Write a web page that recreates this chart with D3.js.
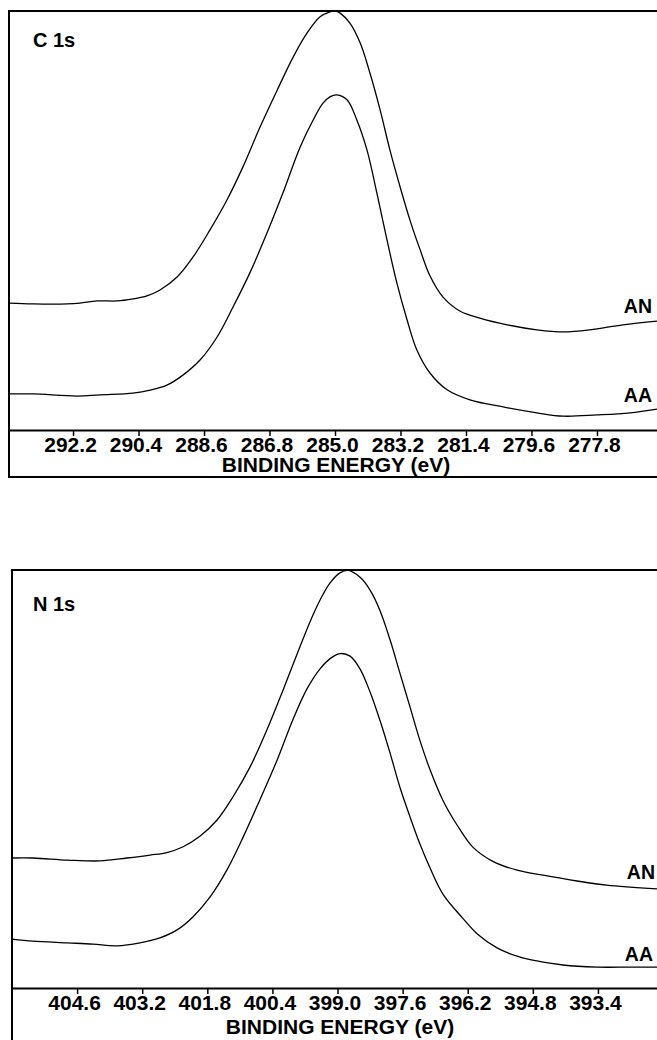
<!DOCTYPE html>
<html lang="en">
<head>
    <meta charset="UTF-8">
    <title>XPS C 1s / N 1s</title>
    <script src="https://d3js.org/d3.v7.min.js"></script>
    <style>
        html, body {
            margin: 0;
            padding: 0;
            background: #fff;
        }
        svg text {
            font-family: "Liberation Sans", Arial, sans-serif;
            font-weight: bold;
            fill: #000;
        }
    </style>
</head>
<body>
    <svg id="chart"></svg>

    <script>
        // Ejes (binding energy, eV)
        const c1sTicks = [292.2, 290.4, 288.6, 286.8, 285.0, 283.2, 281.4, 279.6, 277.8];
        const n1sTicks = [404.6, 403.2, 401.8, 400.4, 399.0, 397.6, 396.2, 394.8, 393.4];
        const c1sRange = [293.96, 276.15];
        const n1sRange = [406.0, 392.13];

        // C 1s, [energía, intensidad (u.a., 0-100)]
        const c1sAN = [
            [293.96, 30.3], [293.30, 30.1], [292.36, 30.1], [292.01, 30.3], [291.54, 30.8],
            [290.99, 30.8], [290.55, 31.3], [290.17, 32.0], [289.81, 33.4], [289.34, 36.5],
            [288.90, 41.3], [288.44, 47.7], [287.97, 54.9], [287.53, 62.8], [287.06, 72.3],
            [286.59, 81.1], [286.15, 89.0], [285.77, 94.7], [285.41, 98.6], [285.14, 99.8],
            [285.00, 100], [284.86, 99.5], [284.59, 97.1], [284.31, 92.4], [284.04, 85.2],
            [283.76, 76.4], [283.49, 66.8], [283.21, 58.0], [282.94, 50.1], [282.66, 43.0],
            [282.39, 36.8], [282.03, 31.7], [281.57, 28.4], [281.02, 26.7], [280.27, 25.1],
            [279.45, 23.9], [278.73, 23.4], [277.99, 23.9], [277.09, 25.1], [276.15, 26.0]
        ];
        const c1sAA = [
            [293.96, 8.6], [293.30, 8.6], [292.09, 8.1], [291.46, 8.4], [290.55, 8.8],
            [290.08, 9.5], [289.62, 10.7], [289.18, 13.1], [288.71, 16.7], [288.24, 22.2],
            [287.80, 29.4], [287.34, 37.5], [286.87, 47.0], [286.43, 56.6], [285.96, 67.5],
            [285.60, 74.0], [285.33, 78.0], [285.14, 79.5], [284.95, 80.0], [284.67, 78.8],
            [284.40, 74.0], [284.12, 66.8], [283.85, 56.6], [283.57, 45.3], [283.30, 35.1],
            [283.02, 26.3], [282.75, 19.1], [282.39, 13.6], [281.92, 9.6], [281.29, 7.2],
            [280.38, 5.5], [279.45, 4.1], [278.73, 3.3], [277.80, 3.6], [276.89, 4.1],
            [276.15, 5.0]
        ];

        // N 1s
        const n1sAN = [
            [406.00, 31.1], [405.55, 31.1], [404.81, 30.6], [404.11, 30.4], [403.53, 31.1],
            [403.03, 31.8], [402.67, 32.4], [402.32, 33.8], [401.96, 36.3], [401.59, 40.2],
            [401.25, 45.7], [400.88, 52.9], [400.52, 61.7], [400.17, 71.3], [399.81, 81.6],
            [399.53, 89.2], [399.31, 94.2], [399.16, 96.9], [398.95, 99.3], [398.77, 99.9],
            [398.52, 98.3], [398.30, 95.2], [398.09, 90.4], [397.87, 83.3], [397.66, 75.4],
            [397.44, 67.2], [397.23, 59.3], [397.01, 52.2], [396.73, 44.8], [396.43, 39.0],
            [396.09, 33.7], [395.66, 30.3], [395.14, 28.2], [394.58, 27.0], [393.85, 25.6],
            [393.21, 24.6], [392.13, 23.7]
        ];
        const n1sAA = [
            [406.00, 11.7], [405.55, 11.2], [404.81, 10.8], [404.26, 10.5], [403.74, 10.1],
            [403.25, 10.8], [402.82, 12.0], [402.45, 13.9], [402.11, 17.0], [401.74, 21.8],
            [401.38, 28.2], [401.03, 36.1], [400.67, 45.0], [400.30, 54.5], [399.96, 64.2],
            [399.66, 71.5], [399.38, 76.3], [399.16, 78.8], [398.95, 80.0], [398.73, 79.4],
            [398.52, 76.4], [398.30, 70.8], [398.09, 64.1], [397.87, 56.2], [397.66, 48.1],
            [397.44, 40.9], [397.23, 34.5], [397.01, 28.7], [396.73, 22.4], [396.30, 16.6],
            [396.00, 13.0], [395.57, 9.6], [395.14, 7.6], [394.86, 6.8], [394.15, 5.5],
            [393.42, 5.0], [392.71, 5.0], [392.13, 5.0]
        ];

        const W = 657, H = 1040;
        const svg = d3.select("#chart").attr("width", W).attr("height", H);

        const panels = [
            { title: "C 1s", ticks: c1sTicks, domain: c1sRange, series: [["AN", c1sAN], ["AA", c1sAA]],
              left: 9, right: 657, top: 11, axisY: 430, bottom: 477, titleX: 33, titleY: 47,
              labelEnd: [652, 652], labelY: [313, 402], xTitleX: 336, xTitleY: 471.5 },
            { title: "N 1s", ticks: n1sTicks, domain: n1sRange, series: [["AN", n1sAN], ["AA", n1sAA]],
              left: 12, right: 657, top: 570, axisY: 988, bottom: 1050, titleX: 33, titleY: 611,
              labelEnd: [655, 653], labelY: [879, 961], xTitleX: 340, xTitleY: 1034 }
        ];

        panels.forEach(p => {
            const x = d3.scaleLinear().domain(p.domain).range([p.left, p.right]);
            const y = d3.scaleLinear().domain([0, 100]).range([p.axisY, p.top]);
            const g = svg.append("g");

            // marco
            g.append("rect")
                .attr("x", p.left).attr("y", p.top)
                .attr("width", p.right + 10 - p.left)
                .attr("height", p.bottom - p.top)
                .attr("fill", "none")
                .attr("stroke", "#000")
                .attr("stroke-width", 2);

            // eje x
            const axis = d3.axisBottom(x)
                .tickValues(p.ticks)
                .tickSize(6)
                .tickSizeOuter(0)
                .tickFormat(d3.format(".1f"));
            const ax = g.append("g")
                .attr("transform", `translate(0,${p.axisY})`)
                .call(axis);
            ax.select(".domain").attr("stroke-width", 2);
            ax.selectAll(".tick line").attr("stroke-width", 1.5);
            ax.selectAll(".tick text")
                .attr("x", -3)
                .attr("y", 7)
                .attr("dy", "0.71em")
                .style("font-size", "21px")
                .style("font-family", "'Liberation Sans', Arial, sans-serif")
                .style("font-weight", "bold");

            g.append("text")
                .attr("x", p.xTitleX)
                .attr("y", p.xTitleY)
                .attr("text-anchor", "middle")
                .style("font-size", "21px")
                .text("BINDING ENERGY (eV)");

            g.append("text")
                .attr("x", p.titleX)
                .attr("y", p.titleY)
                .style("font-size", "20px")
                .text(p.title);

            // curvas
            const line = d3.line()
                .x(d => x(d[0]))
                .y(d => y(d[1]))
                .curve(d3.curveCatmullRom.alpha(0.5));

            p.series.forEach(([name, data], i) => {
                g.append("path")
                    .datum(data)
                    .attr("fill", "none")
                    .attr("stroke", "#000")
                    .attr("stroke-width", 1.3)
                    .attr("d", line);
                g.append("text")
                    .attr("x", p.labelEnd[i])
                    .attr("y", p.labelY[i])
                    .attr("text-anchor", "end")
                    .style("font-size", "19.5px")
                    .text(name);
            });
        });
    </script>
</body>
</html>
